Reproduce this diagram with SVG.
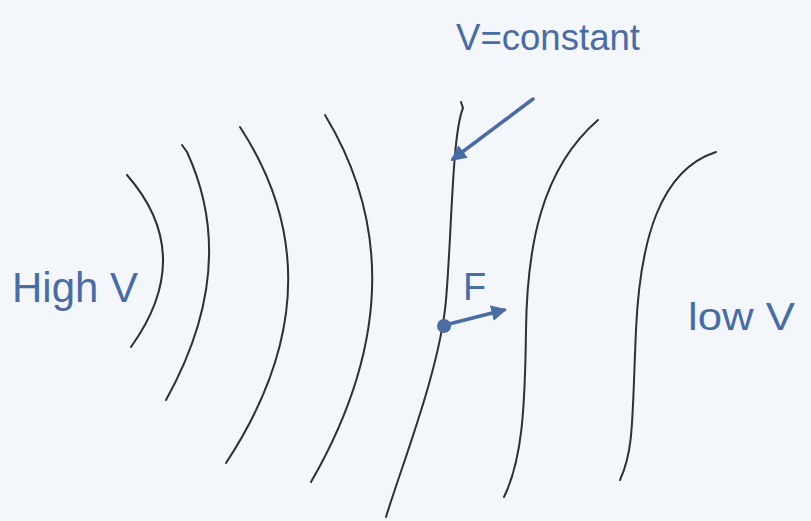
<svg xmlns="http://www.w3.org/2000/svg" width="811" height="521" viewBox="0 0 811 521">
<style>
.eq{fill:none;stroke:#2e3033;stroke-width:2;stroke-linecap:round}
.pen{fill:none;stroke:#4a6ca3;stroke-width:3.5;stroke-linecap:round}
.lbl{font-family:"Liberation Sans",Arial,sans-serif;fill:#4a6ca3}
</style>
<defs>
<marker id="ah" viewBox="0 0 10 10" refX="8" refY="5" markerWidth="4.5" markerHeight="4.5" orient="auto">
<path d="M0,0 L10,5 L0,10 z" fill="#4a6ca3"/>
</marker>
</defs>
<rect width="811" height="521" fill="#f3f6fa"/>
<g id="connectors">
<path id="eq1" class="eq" d="M127,175 Q197,255 131,347"/>
<path id="eq2" class="eq" d="M182,145 L187,152 Q240,267 166,400"/>
<path id="eq3" class="eq" d="M240,127 Q343,285 226,463"/>
<path id="eq4" class="eq" d="M325,115 Q426,282 311,482"/>
<path id="eq5" class="eq" d="M461,102 L463,108 C452,135 452,230 446,300 S400,470 386,517"/>
<path id="eq6" class="eq" d="M598,120 C540,170 527,250 526,330 S522,460 504,497"/>
<path id="eq7" class="eq" d="M716,152 C660,170 640,240 636,330 S634,450 620,480"/>
<line id="arrowV" class="pen" x1="533" y1="99" x2="453" y2="159" marker-end="url(#ah)"/>
<line id="arrowF" class="pen" x1="445" y1="325" x2="504" y2="310" marker-end="url(#ah)"/>
</g>
<g id="point">
<circle cx="444" cy="326" r="7" fill="#4a6ca3"/>
</g>
<g id="label-const">
<text class="lbl" x="456" y="50" font-size="36" textLength="184" lengthAdjust="spacingAndGlyphs">V=constant</text>
</g>
<g id="label-F">
<text class="lbl" x="463" y="300" font-size="38">F</text>
</g>
<g id="label-high">
<text class="lbl" x="12" y="302" font-size="42" textLength="126" lengthAdjust="spacingAndGlyphs">High V</text>
</g>
<g id="label-low">
<text class="lbl" x="688" y="330" font-size="38" textLength="107" lengthAdjust="spacingAndGlyphs">low V</text>
</g>
</svg>
